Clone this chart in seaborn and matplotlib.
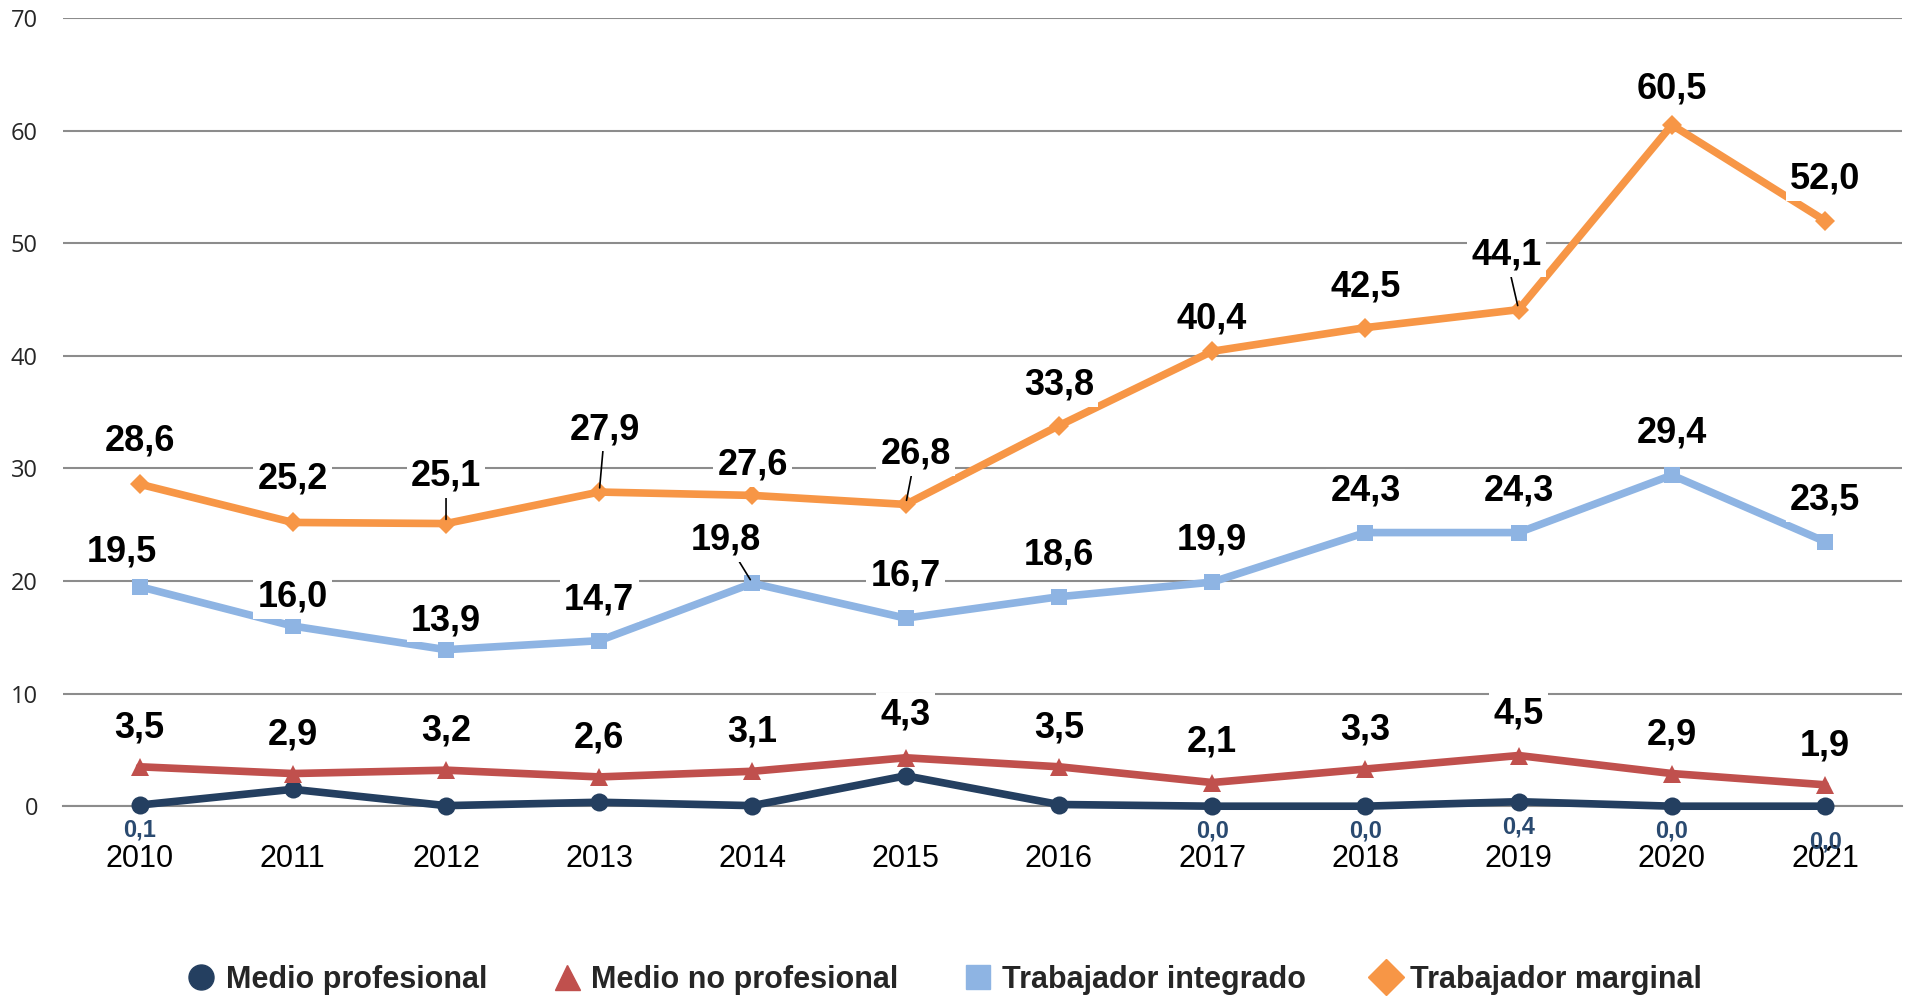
import matplotlib
matplotlib.use("Agg")
import matplotlib.pyplot as plt
from matplotlib.lines import Line2D
import seaborn as sns
import pandas as pd

years = ["2010", "2011", "2012", "2013", "2014", "2015", "2016", "2017", "2018", "2019", "2020", "2021"]
medio_profesional = [0.1, 1.5, 0.05, 0.35, 0.05, 2.7, 0.15, 0.0, 0.0, 0.4, 0.0, 0.0]
medio_no_profesional = [3.5, 2.9, 3.2, 2.6, 3.1, 4.3, 3.5, 2.1, 3.3, 4.5, 2.9, 1.9]
trabajador_integrado = [19.5, 16.0, 13.9, 14.7, 19.8, 16.7, 18.6, 19.9, 24.3, 24.3, 29.4, 23.5]
trabajador_marginal = [28.6, 25.2, 25.1, 27.9, 27.6, 26.8, 33.8, 40.4, 42.5, 44.1, 60.5, 52.0]
series_names = ["Medio profesional", "Medio no profesional", "Trabajador integrado", "Trabajador marginal"]
# which Medio profesional values carry a visible label
prof_labeled = [True, False, False, False, False, False, False, True, True, True, True, True]

# styles
colors = ["#243F60", "#C0504D", "#8EB4E3", "#F79646"]
markers = ["o", "^", "s", "D"]
msizes = [13, 13, 12, 10]

# label offsets in points (dx, dy) and leader flags
off_marg = [(0, 31), (0, 31), (0, 34), (4, 45), (0, 22), (7, 36), (0, 29), (0, 23), (0, 29), (-9, 39), (0, 26), (0, 30)]
lead_marg = [False, False, True, True, False, True, False, False, False, True, False, False]
off_int = [(-13, 25), (0, 21), (0, 21), (0, 29), (-19, 31), (0, 30), (0, 30), (0, 30), (0, 30), (0, 30), (0, 30), (0, 30)]
lead_int = [False, False, False, False, True, False, False, False, False, False, False, False]
off_nop = [(0, 28), (0, 28), (0, 28), (0, 28), (0, 28), (0, 31), (0, 28), (0, 29), (0, 28), (0, 30), (0, 28), (0, 28)]
off_prof = [(0, -18)] * 11 + [(0, -26)]

sns.set_theme(style="white")
plt.rcParams['font.family'] = ['Liberation Sans', 'DejaVu Sans']

fig = plt.figure(figsize=(19.08, 9.99), dpi=100)
ax = fig.add_axes([0.033, 0.193, 0.9637, 0.789])

xs = list(range(len(years)))
all_vals = [medio_profesional, medio_no_profesional, trabajador_integrado, trabajador_marginal]
for name, vals, c, m, ms in zip(series_names, all_vals, colors, markers, msizes):
    df = pd.DataFrame({"x": xs, "y": vals})
    sns.lineplot(data=df, x="x", y="y", ax=ax, color=c, linewidth=5.5, marker=m,
                 markersize=ms, markeredgewidth=0, zorder=3, legend=False, clip_on=False)

ax.set_xlim(-0.5, 11.5)
ax.set_ylim(0, 70)
ax.set_yticks(range(0, 71, 10))
ax.set_yticklabels([str(v) for v in range(0, 71, 10)], fontsize=17, family=['Open Sans', 'DejaVu Sans'])
ax.set_xticks(xs)
ax.set_xticklabels(years, fontsize=22)
ax.set_xticks([i + 0.5 for i in range(-1, 12)], minor=True)
ax.tick_params(axis='x', which='major', length=0, pad=27, colors='black')
ax.tick_params(axis='x', which='minor', length=8, width=1.5, color='#8C8C8C', direction='out')
ax.tick_params(axis='y', length=0, pad=18)
ax.grid(axis='y', color='#8C8C8C', linewidth=1.5)
ax.grid(axis='x', visible=False)
for s in ['left', 'right', 'top']:
    ax.spines[s].set_visible(False)
ax.spines['bottom'].set_color('#8C8C8C')
ax.spines['bottom'].set_linewidth(1.5)
ax.spines['bottom'].set_zorder(1)
ax.set_xlabel("")
ax.set_ylabel("")

def fmt(v):
    return f"{v:.1f}".replace(".", ",")

box = dict(boxstyle="square,pad=0.12", fc="white", ec="none")

def label(x, y, txt, off, leader, size=26, color="black", bbox=box):
    kw = {}
    if leader:
        kw["arrowprops"] = dict(arrowstyle="-", color="black", lw=1.2, shrinkA=0, shrinkB=3)
    ax.annotate(txt, xy=(x, y), xytext=off, textcoords="offset points",
                ha="center", va="center", fontsize=size, fontweight="bold",
                color=color, bbox=bbox, zorder=10, **kw)

for i in xs:
    label(i, trabajador_marginal[i], fmt(trabajador_marginal[i]), off_marg[i], lead_marg[i])
    label(i, trabajador_integrado[i], fmt(trabajador_integrado[i]), off_int[i], lead_int[i])
    label(i, medio_no_profesional[i], fmt(medio_no_profesional[i]), off_nop[i], False)
    if prof_labeled[i]:
        label(i, medio_profesional[i], fmt(medio_profesional[i]), off_prof[i], False,
              size=17, color="#2A4A70", bbox=None)

handles = [Line2D([], [], linestyle='none', marker=m, color=c, markersize=s)
           for m, c, s in zip(markers, colors, [18, 18, 17, 18])]
fig.legend(handles, series_names, loc="center", bbox_to_anchor=(0.494, 0.019), ncol=4,
           frameon=False, prop={'size': 22, 'weight': 'bold'}, handletextpad=0.2,
           columnspacing=2.0, handlelength=1.2)

fig.savefig("out.png", dpi=100)
